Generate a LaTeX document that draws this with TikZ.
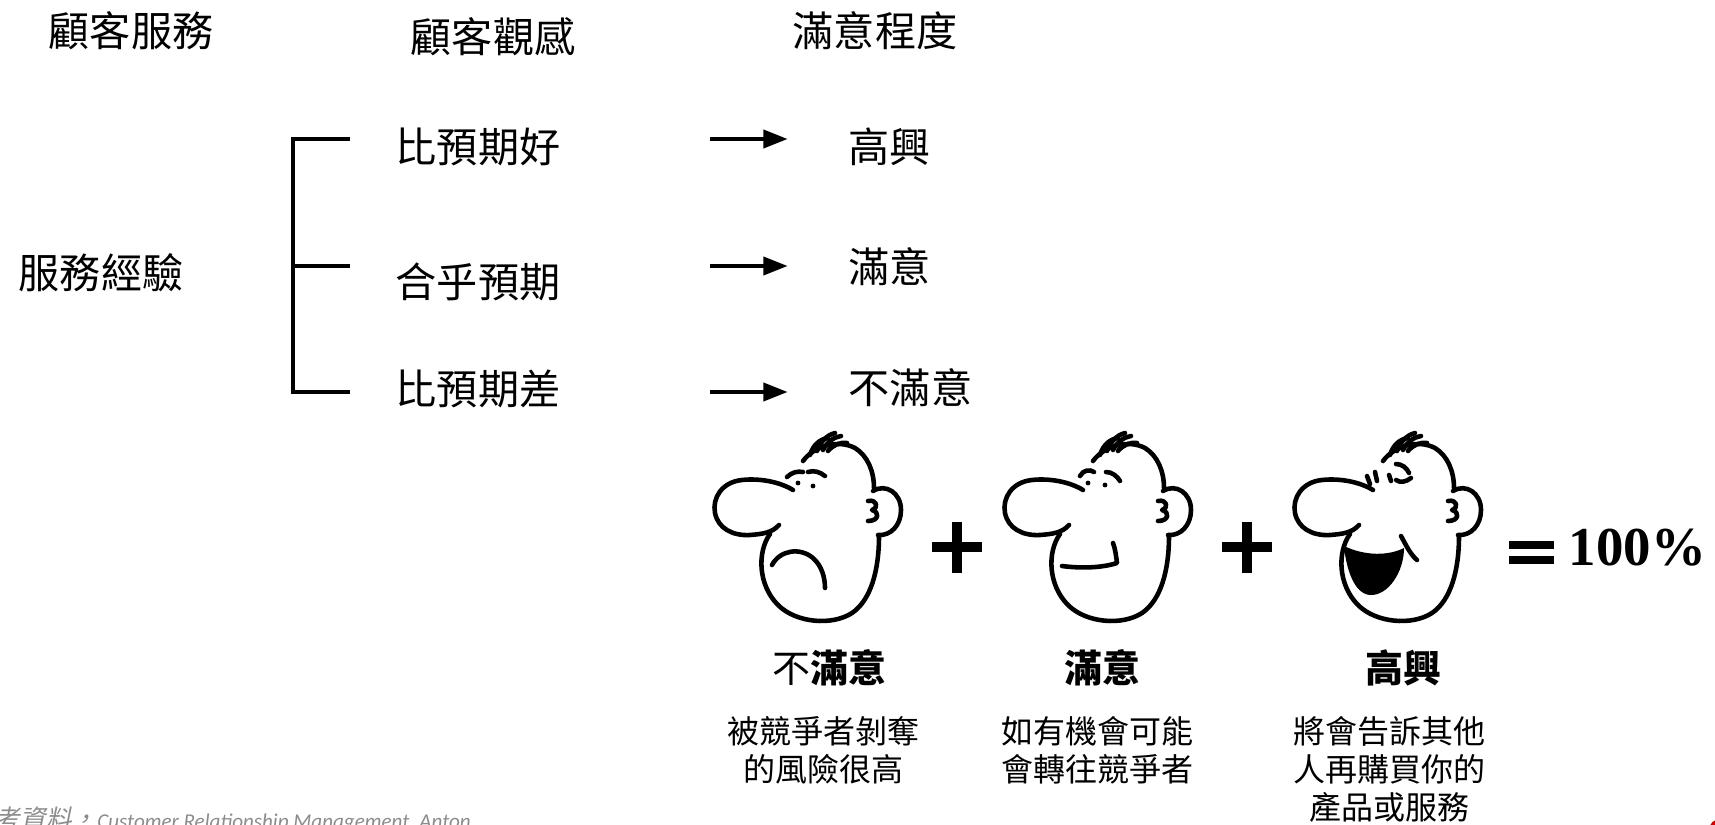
\documentclass[tikz,border=0pt]{standalone}
\usepackage{fontspec}
\setmainfont{Liberation Serif}
\newfontfamily\cjk{Noto Sans CJK TC}
\newfontfamily\cjkslant{Noto Sans CJK TC}[FakeSlant=0.2]
\newfontfamily\srcfont{Carlito}
\usetikzlibrary{arrows.meta,positioning}

\tikzset{
  outline/.style={line width=1.3pt, line cap=round, line join=round},
  head/.pic={
    % hair
    \draw[outline] (110,35) .. controls (113,25) and (120,19) .. (128,18);
    \draw[outline] (117,31) .. controls (120,22) and (127,15) .. (135,13);
    \draw[outline] (123,30) .. controls (127,22) and (134,17) .. (141,16);
    \draw[outline] (128,31) .. controls (133,25) and (140,22) .. (147,23);
    % skull, ear, jaw
    \draw[outline] (103,41) .. controls (114,26) and (138,19) .. (155,28)
      .. controls (168,36) and (174,52) .. (174,68);
    \draw[outline] (173,71) .. controls (186,63) and (201,73) .. (201,90)
      .. controls (201,105) and (191,116) .. (178,115);
    \draw[outline] (168,81) .. controls (177,79) and (179,88) .. (172,90)
      .. controls (180,92) and (179,101) .. (168,101);
    \draw[outline] (70,114) .. controls (57,132) and (58,165) .. (78,185)
      .. controls (96,203) and (132,206) .. (152,193)
      .. controls (171,180) and (179,150) .. (179,116);
    % nose
    \draw[outline] (93,70) .. controls (80,62) and (60,58) .. (42,60)
      .. controls (22,62) and (12,78) .. (15,93)
      .. controls (18,108) and (32,116) .. (50,115)
      .. controls (62,114) and (72,113) .. (79,105);
  },
  angry/.pic={
    \pic {head};
    \draw[outline] (87,57) .. controls (92,52) and (98,51) .. (103,52);
    \draw[outline] (108,52) .. controls (114,50) and (120,52) .. (125,56);
    \fill (98,63) circle (2.4) (113,66) circle (2.4);
    \draw[outline] (72,145) .. controls (80,130) and (100,127) .. (113,138)
      .. controls (122,146) and (125,158) .. (125,168);
  },
  content/.pic={
    \pic {head};
    \draw[outline] (90,56) .. controls (93,50) and (100,49) .. (104,52);
    \draw[outline] (116,52) .. controls (122,52) and (127,56) .. (130,61);
    \fill (98,63) circle (2.4) (115,65) circle (2.4);
    \draw[outline] (72,146) .. controls (95,149) and (115,147) .. (127,143)
      .. controls (126,135) and (125,128) .. (123,123);
  },
  happy/.pic={
    \pic {head};
    \draw[outline] (87,56) -- (90,64);
    \draw[outline] (95,52) -- (97,61);
    \draw[outline] (109,55) -- (111,61);
    \draw[outline] (116,44) .. controls (122,44) and (127,48) .. (129,53);
    \draw[outline] (116,60) .. controls (120,63) and (126,62) .. (131,58);
    \fill (64,126) .. controls (85,136) and (108,136) .. (124,128)
      .. controls (124,152) and (108,176) .. (90,175)
      .. controls (74,174) and (66,148) .. cycle;
    \draw[outline] (121,116) .. controls (126,125) and (130,134) .. (137,140);
  }
}

\begin{document}
\begin{tikzpicture}[
    x=0.01cm, y=-0.01cm,
    title/.style={font=\cjk\fontsize{11.7}{14}\selectfont, inner sep=0pt},
    mood/.style={font=\cjk\fontsize{10.8}{13}\selectfont, inner sep=0pt},
    note/.style={font=\cjk\fontsize{9.1}{10.8}\selectfont, inner sep=0pt, align=center},
    branch/.style={line width=1.3pt},
    arrow/.style={-{Triangle[length=7pt,width=5pt]}, line width=1.4pt},
    sign/.style={line width=2.8pt}
]
\useasboundingbox (0,0) rectangle (1715,824);
\clip (0,0) rectangle (1715,824);
\fill[white] (0,0) rectangle (1715,824);

% column heads
\node [title] (service) at (131,31) {顧客服務};
\node [title] (view) at (493,37) {顧客觀感};
\node [title] (level) at (875,31) {滿意程度};

\node [title] (experience) at (101,273) {服務經驗};

% bracket
\coordinate (b1) at (293,139);
\coordinate (b2) at (293,266);
\coordinate (b3) at (293,392);
\coordinate (t1) at (350,139);
\coordinate (t2) at (350,266);
\coordinate (t3) at (350,392);
\draw [branch] (t1) -- (b1) -- (b3) -- (t3);
\draw [branch] (b2) -- (t2);

\node [title] (better) at (478,147) {比預期好};
\node [title] (equal) at (478,282) {合乎預期};
\node [title] (worse) at (478,389) {比預期差};

\node [title, anchor=west] (glad) at (848,147) {高興};
\node [title, anchor=west] (pleased) at (848,267) {滿意};
\node [title, anchor=west] (unhappy) at (848,388) {不滿意};

\coordinate (a1) at (710,139);
\coordinate (a2) at (710,266);
\coordinate (a3) at (710,392);
\draw [arrow] (a1) -- ++(78,0);
\draw [arrow] (a2) -- ++(78,0);
\draw [arrow] (a3) -- ++(78,0);

% faces
\pic (sad) at (700,420) {angry};
\pic (mid) at (990,420) {content};
\pic (joy) at (1280,420) {happy};

\draw [sign] (932,547) -- (982,547) (957,522) -- (957,573);
\draw [sign] (1222,547) -- (1272,547) (1247,522) -- (1247,573);
\draw [line width=2pt] (1509,545) -- (1554,545) (1509,560) -- (1554,560);
\node [font=\bfseries\fontsize{15.6}{18}\selectfont, anchor=base west, inner sep=0pt] (total) at (1568,565) {100\%};

\node [mood] (lblsad) at (829,668) {不\textbf{滿意}};
\node [mood] (lblmid) at (1102,668) {\textbf{滿意}};
\node [mood] (lbljoy) at (1403,668) {\textbf{高興}};

\node [note] (notesad) at (823,750) {被競爭者剝奪\\的風險很高};
\node [note] (notemid) at (1097,750) {如有機會可能\\會轉往競爭者};
\node [note] (notejoy) at (1389,769) {將會告訴其他\\人再購買你的\\產品或服務};

% source line, runs off the bottom edge
\node [anchor=base west, inner sep=0pt, text=black!45] (source) at (-6,828)
  {{\cjkslant\fontsize{7.3}{9}\selectfont 考資料，}{\srcfont\itshape\fontsize{6}{8}\selectfont Customer Relationship Management, Anton}};

\fill [red!85!black] (1720,830) circle (11);
\end{tikzpicture}
\end{document}
